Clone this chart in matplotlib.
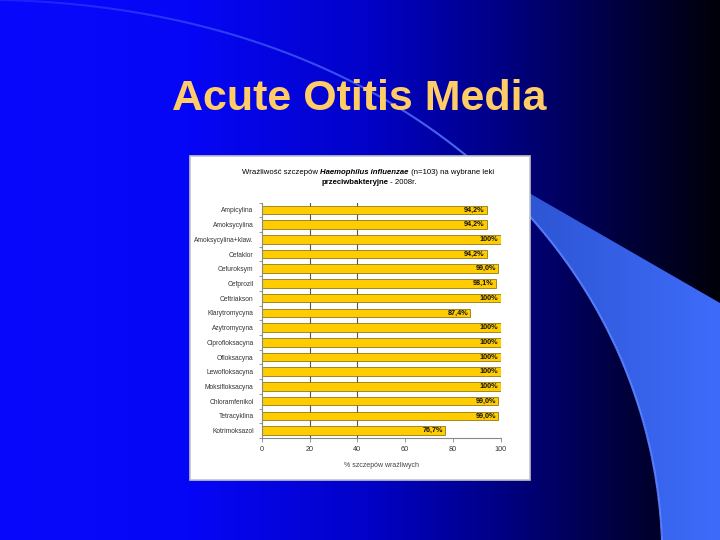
import numpy as np
import matplotlib
matplotlib.use("Agg")
import matplotlib.pyplot as plt
from matplotlib.patches import Rectangle, Polygon
from matplotlib.collections import LineCollection

plt.rcParams['font.family'] = ['Liberation Sans', 'DejaVu Sans']

# ---------------- data ----------------
slide_title = "Acute Otitis Media"
chart_title_1 = ["Wrażliwość szczepów ", "Haemophilus influenzae", " (n=103) na wybrane leki"]
chart_title_2 = ["przeciwbakteryjne", " - 2008r."]
categories = ["Ampicylina", "Amoksycylina", "Amoksycylina+klaw.", "Cefaklor",
              "Cefuroksym", "Cefprozil", "Ceftriakson", "Klarytromycyna",
              "Azytromycyna", "Ciprofloksacyna", "Ofloksacyna", "Lewofloksacyna",
              "Moksifloksacyna", "Chloramfenikol", "Tetracyklina", "Kotrimoksazol"]
values = [94.2, 94.2, 100, 94.2, 99.0, 98.1, 100, 87.4,
          100, 100, 100, 100, 100, 99.0, 99.0, 76.7]
x_ticks = [0, 20, 40, 60, 80, 100]
x_label = "% szczepów wrażliwych"

W, H = 720, 540
fig = plt.figure(figsize=(7.2, 5.4), dpi=100)

# ---------------- slide background ----------------
bg = fig.add_axes([0, 0, 1, 1])
bg.set_xlim(0, W)
bg.set_ylim(H, 0)
bg.axis('off')

xs = np.arange(W)
stops_x = [0, 190, 367, 505, 597, 657, 720]
stops_b = [252, 246, 200, 130, 75, 42, 8]
blue = np.interp(xs, stops_x, stops_b) / 255.0
red = np.interp(xs, stops_x, [8, 6, 2, 0, 0, 0, 0]) / 255.0
grad = np.zeros((1, W, 3))
grad[0, :, 0] = red
grad[0, :, 1] = red
grad[0, :, 2] = blue
bg.imshow(grad, extent=(0, W, H, 0), aspect='auto', zorder=0, interpolation='bilinear')

# big arc (cubic bezier)
P0, P1, P2, P3 = np.array([0, 0]), np.array([400, 8]), np.array([650, 250]), np.array([662, 540])
t = np.linspace(0, 1, 400)[:, None]
arc = ((1 - t) ** 3) * P0 + 3 * ((1 - t) ** 2) * t * P1 + 3 * (1 - t) * t ** 2 * P2 + t ** 3 * P3

# swoosh shape
i0 = np.argmin(np.abs(arc[:, 0] - 470))
start = arc[i0]
poly_pts = np.vstack([arc[i0:], [[720, 540], [720, 303], start]])
sw = Polygon(poly_pts, closed=True, facecolor='none', edgecolor='none', zorder=1)
bg.add_patch(sw)
sg = np.zeros((1, 256, 3))
sx = np.linspace(0, 1, 256)
sg[0, :, 0] = (40 + 22 * sx) / 255
sg[0, :, 1] = (78 + 30 * sx) / 255
sg[0, :, 2] = (200 + 50 * sx) / 255
im = bg.imshow(sg, extent=(470, 720, 540, 150), aspect='auto', zorder=1, interpolation='bilinear')
im.set_clip_path(sw)
bg.set_xlim(0, W)
bg.set_ylim(H, 0)

# thin arc line
segs = np.stack([arc[:-1], arc[1:]], axis=1)
alphas = np.clip(np.linspace(0.2, 1.6, len(segs)), 0, 1)
cols = [(0.35, 0.5, 1.0, a) for a in alphas]
bg.add_collection(LineCollection(segs, colors=cols, linewidths=1.5, zorder=2))

# slide title
bg.text(359, 109.5, slide_title, color='#FFCC66', fontsize=31, fontweight='bold',
        ha='center', va='baseline', zorder=5)

# chart box
bg.add_patch(Rectangle((190, 156), 340, 324, facecolor='white', edgecolor='#C4C4C4',
                       linewidth=1.2, zorder=3))

# chart title with mixed styles
renderer = fig.canvas.get_renderer()


def mixed_line(pieces, styles, cx, y, size):
    objs = []
    for p, (wt, st) in zip(pieces, styles):
        objs.append(bg.text(0, y, p, fontsize=size, fontweight=wt, fontstyle=st,
                            color='black', ha='left', va='baseline', zorder=5))
    widths = [o.get_window_extent(renderer).width for o in objs]
    x = cx - sum(widths) / 2
    for o, w in zip(objs, widths):
        o.set_x(x)
        x += w


mixed_line(chart_title_1, [('normal', 'normal'), ('bold', 'italic'), ('normal', 'normal')],
           368, 174, 5.6)
mixed_line(chart_title_2, [('bold', 'normal'), ('normal', 'normal')], 369, 184, 5.6)

# ---------------- bar chart ----------------
ax = fig.add_axes([262 / W, 1 - 438 / H, (500.5 - 262) / W, (438 - 202.5) / H])
ax.set_zorder(4)
ax.set_facecolor('white')
y = np.arange(len(categories))
for gx in (20, 40):
    ax.axvline(gx, color='#555555', linewidth=0.8, zorder=1)
ax.barh(y, values, height=0.58, color='#FFCC00', edgecolor='#7a6400', linewidth=0.5, zorder=2)
for yi, v in zip(y, values):
    lab = "100%" if v >= 100 else f"{v:.1f}".replace('.', ',') + "%"
    ax.text(v - 0.9, yi, lab, ha='right', va='center', fontsize=5.2, fontweight='bold',
            color='#111111', zorder=3)

ax.set_xlim(0, 100)
ax.set_ylim(len(categories) - 0.5, -0.5)
ax.set_xticks(x_ticks)
ax.set_xticklabels([str(v) for v in x_ticks], fontsize=5.2, color='#333333')
ax.set_yticks(y)
ax.set_yticklabels(categories, fontsize=4.8, color='#333333')
ax.set_yticks(np.arange(len(categories) + 1) - 0.5, minor=True)
ax.tick_params(axis='y', which='major', length=0, pad=6)
ax.tick_params(axis='y', which='minor', length=2.5, color='#888888', width=0.6)
ax.tick_params(axis='x', which='major', length=3, color='#888888', width=0.6, pad=3)
for s in ('top', 'right'):
    ax.spines[s].set_visible(False)
for s in ('left', 'bottom'):
    ax.spines[s].set_color('#888888')
    ax.spines[s].set_linewidth(0.8)
ax.set_xlabel(x_label, fontsize=5.0, color='#444444', labelpad=6)

fig.savefig("out.png", dpi=100)
